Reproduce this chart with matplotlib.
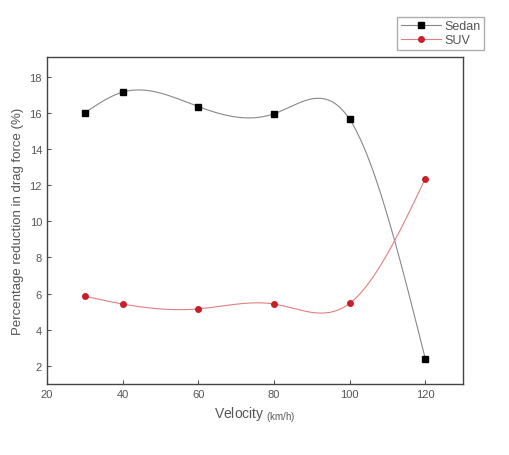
import numpy as np
import matplotlib.pyplot as plt

plt.rcParams['font.family'] = ['Liberation Sans', 'DejaVu Sans']

# Data
velocity = [30, 40, 60, 80, 100, 120]
sedan = [16.0, 17.15, 16.35, 15.95, 15.65, 2.4]
suv = [5.85, 5.42, 5.15, 5.42, 5.45, 12.35]


def natural_spline(x, y, n=300):
    # plain natural cubic spline, like the smoothed line in Origin
    x = np.asarray(x, float)
    y = np.asarray(y, float)
    k = len(x)
    h = np.diff(x)
    A = np.zeros((k, k))
    b = np.zeros(k)
    A[0, 0] = A[-1, -1] = 1
    for i in range(1, k - 1):
        A[i, i - 1] = h[i - 1]
        A[i, i] = 2 * (h[i - 1] + h[i])
        A[i, i + 1] = h[i]
        b[i] = 6 * ((y[i + 1] - y[i]) / h[i] - (y[i] - y[i - 1]) / h[i - 1])
    M = np.linalg.solve(A, b)
    xs = np.linspace(x[0], x[-1], n)
    idx = np.clip(np.searchsorted(x, xs) - 1, 0, k - 2)
    x0, x1 = x[idx], x[idx + 1]
    hh = x1 - x0
    t0, t1 = x1 - xs, xs - x0
    ys = (M[idx] * t0 ** 3 + M[idx + 1] * t1 ** 3) / (6 * hh) \
        + (y[idx] / hh - M[idx] * hh / 6) * t0 \
        + (y[idx + 1] / hh - M[idx + 1] * hh / 6) * t1
    return xs, ys


fig = plt.figure(figsize=(5.1, 4.56), dpi=100)
ax = fig.add_axes([0.092, 0.156, 0.816, 0.717])

grey = '#555555'
for vals, col, lc, mk, name in [(sedan, 'black', '#888888', 's', 'Sedan'),
                                (suv, '#c8202a', '#e08080', 'o', 'SUV')]:
    xs, ys = natural_spline(velocity, vals)
    ax.plot(xs, ys, color=lc, lw=0.8)
    ax.plot(velocity, vals, linestyle='none', marker=mk, color=col, ms=4)
    ax.plot([], [], color=lc, lw=0.8, marker=mk, mfc=col, mec=col, ms=4, label=name)

ax.set_xlim(20, 130)
ax.set_ylim(1, 19.1)
ax.set_xticks([20, 40, 60, 80, 100, 120])
ax.set_yticks([2, 4, 6, 8, 10, 12, 14, 16, 18])
ax.tick_params(direction='in', length=3, labelsize=8, colors=grey, labelcolor=grey)
for s in ax.spines.values():
    s.set_color('#444444')
    s.set_linewidth(1.0)

ax.set_ylabel('Percentage reduction in drag force (%)', fontsize=9.5, color=grey)
ax.set_xlabel('Velocity $\\mathregular{_{(km/h)}}$', fontsize=10, color=grey)

fig.legend(loc='upper right', bbox_to_anchor=(0.962, 0.975), fontsize=9,
           frameon=True, fancybox=False, edgecolor='#999999', borderpad=0.3,
           handlelength=3.2, labelspacing=0.15, handletextpad=0.3, labelcolor=grey)

fig.savefig('out.png', dpi=100)
